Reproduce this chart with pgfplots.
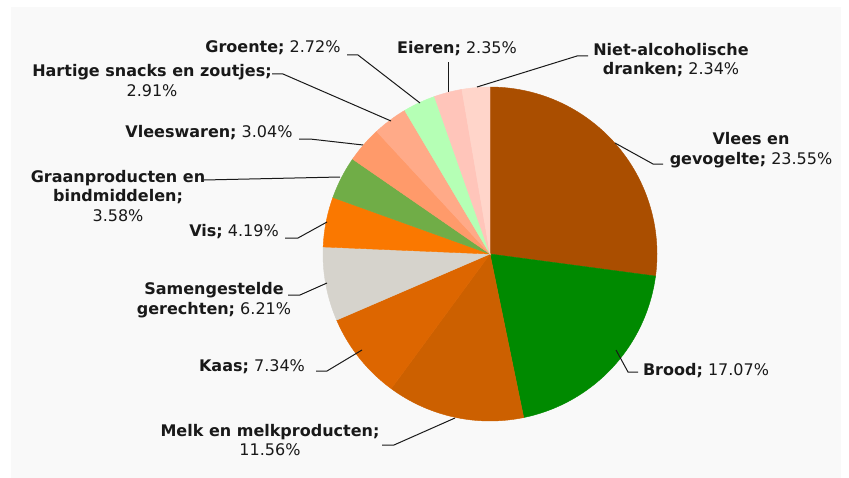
\documentclass[border=0pt]{standalone}
\usepackage{fontspec}
\setmainfont{DejaVu Sans}
\usepackage{pgfplots}
\pgfplotsset{compat=1.18}

\definecolor{bg}{RGB}{249,249,249}
\definecolor{cVlees}{RGB}{170,78,0}
\definecolor{cBrood}{RGB}{0,138,0}
\definecolor{cMelk}{RGB}{204,96,0}
\definecolor{cKaas}{RGB}{221,102,0}
\definecolor{cSamen}{RGB}{214,211,204}
\definecolor{cVis}{RGB}{250,120,0}
\definecolor{cGraan}{RGB}{112,173,71}
\definecolor{cVleesw}{RGB}{255,154,106}
\definecolor{cHartig}{RGB}{255,170,136}
\definecolor{cGroente}{RGB}{181,255,181}
\definecolor{cEieren}{RGB}{255,197,186}
\definecolor{cNiet}{RGB}{255,213,202}

% values (percent) of the slices, in clockwise order from the top
\def\total{86.86}
\def\cum{0}
\newcommand\slicedef[2]{%
  \pgfmathsetmacro\tmpS{90-(\cum/\total)*360}%
  \pgfmathsetmacro\cumnext{\cum+#2}%
  \pgfmathsetmacro\tmpE{90-(\cumnext/\total)*360}%
  \expandafter\xdef\csname s#1\endcsname{\tmpS}%
  \expandafter\xdef\csname e#1\endcsname{\tmpE}%
  \xdef\cum{\cumnext}%
}
\slicedef{A}{23.55}% Vlees en gevogelte
\slicedef{B}{17.07}% Brood
\slicedef{C}{11.56}% Melk en melkproducten
\slicedef{D}{7.34}%  Kaas
\slicedef{E}{6.21}%  Samengestelde gerechten
\slicedef{F}{4.19}%  Vis
\slicedef{G}{3.58}%  Graanproducten en bindmiddelen
\slicedef{H}{3.04}%  Vleeswaren
\slicedef{I}{2.91}%  Hartige snacks en zoutjes
\slicedef{J}{2.72}%  Groente
\slicedef{K}{2.35}%  Eieren
\slicedef{L}{2.34}%  Niet-alcoholische dranken

\newcommand\slice[3]{%
  \addplot[fill=#3, draw=#3, line width=0.3pt, domain=#2:#1, samples=90]
    ({490+167*cos(x)},{254-167*sin(x)}) -- (490,254) -- cycle;
}

\begin{document}
\begin{tikzpicture}
\begin{axis}[
  x=0.75pt, y=0.75pt, y dir=reverse,
  xmin=0, xmax=849, ymin=0, ymax=478,
  hide axis, clip=false,
]
\fill[white] (0,0) rectangle (849,478);
\fill[bg] (11,7) rectangle (841,478);

\slice{\sA}{\eA}{cVlees}
\slice{\sB}{\eB}{cBrood}
\slice{\sC}{\eC}{cMelk}
\slice{\sD}{\eD}{cKaas}
\slice{\sE}{\eE}{cSamen}
\slice{\sF}{\eF}{cVis}
\slice{\sG}{\eG}{cGraan}
\slice{\sH}{\eH}{cVleesw}
\slice{\sI}{\eI}{cHartig}
\slice{\sJ}{\eJ}{cGroente}
\slice{\sK}{\eK}{cEieren}
\slice{\sL}{\eL}{cNiet}

\begin{scope}[black!90, line width=0.75pt]
\draw (477,87)--(577,56)--(588,56);
\draw (448,92)--(448,62);
\draw (420,103)--(358,55)--(347,55);
\draw (391,121)--(283,74)--(272,74);
\draw (363,145)--(310,139)--(299,139);
\draw (340,177)--(204,180);
\draw (327,222)--(298,238)--(285,238);
\draw (327,283)--(300,295)--(288,295);
\draw (362,350)--(327,371)--(316,371);
\draw (455,418)--(394,445)--(382,445);
\draw (616,350)--(628,372)--(638,372);
\draw (615,143)--(653,164)--(663,164);
\end{scope}

\begin{scope}[every node/.style={align=center, inner sep=0pt, font=\fontsize{12}{14.6}\selectfont, text=black!90}]
\node at (751,150) {\textbf{Vlees en}\\\textbf{gevogelte;} 23.55\%};
\node at (706,371) {\textbf{Brood;} 17.07\%};
\node at (270,440) {\textbf{Melk en melkproducten;}\\11.56\%};
\node at (252,367) {\textbf{Kaas;} 7.34\%};
\node at (214,300) {\textbf{Samengestelde}\\\textbf{gerechten;} 6.21\%};
\node at (234,232) {\textbf{Vis;} 4.19\%};
\node at (118,196) {\textbf{Graanproducten en}\\\textbf{bindmiddelen;}\\3.58\%};
\node at (209,133) {\textbf{Vleeswaren;} 3.04\%};
\node at (152,80.5) {\textbf{Hartige snacks en zoutjes;}\\2.91\%};
\node at (273,48) {\textbf{Groente;} 2.72\%};
\node at (457,49) {\textbf{Eieren;} 2.35\%};
\node at (671,60) {\textbf{Niet-alcoholische}\\\textbf{dranken;} 2.34\%};
\end{scope}
\end{axis}
\end{tikzpicture}
\end{document}
